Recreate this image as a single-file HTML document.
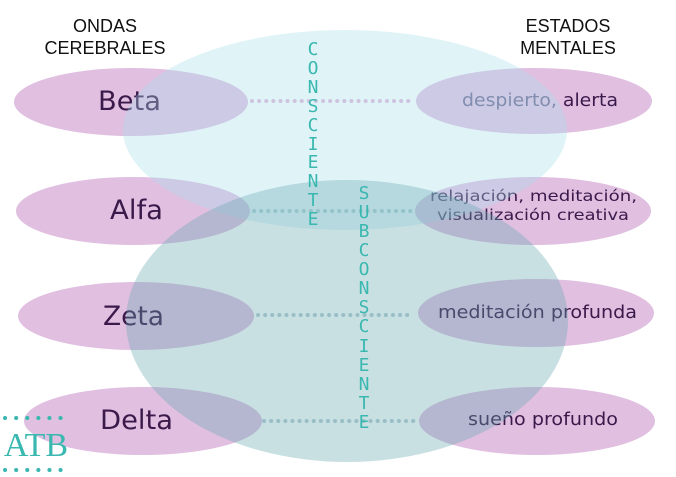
<!DOCTYPE html>
<html><head><meta charset="utf-8"><style>
html,body{margin:0;padding:0;background:#fff;}
svg{display:block;}
</style></head><body>
<svg width="676" height="477" viewBox="0 0 676 477" xmlns="http://www.w3.org/2000/svg">
<g fill="#e0bfe0">
<ellipse cx="131" cy="102" rx="117" ry="34"/>
<ellipse cx="133" cy="211" rx="117" ry="34"/>
<ellipse cx="136" cy="316" rx="118" ry="34"/>
<ellipse cx="143" cy="421" rx="119" ry="34"/>
<ellipse cx="534" cy="101" rx="118" ry="33"/>
<ellipse cx="533" cy="211" rx="118" ry="34"/>
<ellipse cx="536" cy="313" rx="118" ry="34"/>
<ellipse cx="537" cy="421" rx="118" ry="34"/>
</g>
<g font-family="DejaVu Sans, sans-serif" fill="#3a1a4a">
<text x="98" y="110" font-size="27" textLength="63" lengthAdjust="spacingAndGlyphs">Beta</text>
<text x="110" y="219" font-size="27" textLength="53" lengthAdjust="spacingAndGlyphs">Alfa</text>
<text x="103" y="325" font-size="27" textLength="61" lengthAdjust="spacingAndGlyphs">Zeta</text>
<text x="100" y="429" font-size="27" textLength="73" lengthAdjust="spacingAndGlyphs">Delta</text>
<text x="462" y="106" font-size="18" textLength="156" lengthAdjust="spacingAndGlyphs"><tspan fill="#6f6290">despierto, </tspan>alerta</text>
<text x="430" y="201" font-size="15.5" textLength="207" lengthAdjust="spacingAndGlyphs">relajación, meditación,</text>
<text x="437" y="220" font-size="15.5" textLength="192" lengthAdjust="spacingAndGlyphs">visualización creativa</text>
<text x="438" y="318" font-size="17.5" textLength="199" lengthAdjust="spacingAndGlyphs">meditación profunda</text>
<text x="468" y="425" font-size="17.5" textLength="150" lengthAdjust="spacingAndGlyphs">sueño profundo</text>
</g>
<g stroke-linecap="round" stroke-width="4" stroke-dasharray="0.1 7">
<line x1="252" y1="101" x2="414" y2="101" stroke="#e2b6dc"/>
<line x1="254" y1="211" x2="414" y2="211" stroke="#b6ccd3"/>
<line x1="258" y1="315" x2="414" y2="315" stroke="#b6ccd3"/>
<line x1="264" y1="421" x2="418" y2="421" stroke="#b6ccd3"/>
</g>
<ellipse cx="345" cy="130" rx="222" ry="100" fill="#a6e0eb" opacity="0.35"/>
<ellipse cx="347" cy="321" rx="221" ry="141" fill="#65a6af" opacity="0.35"/>
<g font-family="DejaVu Sans Mono, monospace" font-size="18" fill="#3ab8b0" text-anchor="middle">
<text x="313" y="55">C</text><text x="313" y="74">O</text><text x="313" y="93">N</text><text x="313" y="112">S</text><text x="313" y="131">C</text><text x="313" y="150">I</text><text x="313" y="168">E</text><text x="313" y="187">N</text><text x="313" y="206">T</text><text x="313" y="225">E</text>
<text x="364" y="199">S</text><text x="364" y="218">U</text><text x="364" y="237">B</text><text x="364" y="256">C</text><text x="364" y="275">O</text><text x="364" y="294">N</text><text x="364" y="313">S</text><text x="364" y="332">C</text><text x="364" y="352">I</text><text x="364" y="371">E</text><text x="364" y="390">N</text><text x="364" y="409">T</text><text x="364" y="428">E</text>
</g>
<g font-family="Liberation Sans, sans-serif" font-size="18" fill="#111" text-anchor="middle">
<text x="105" y="32">ONDAS</text>
<text x="105" y="54">CEREBRALES</text>
<text x="568" y="32">ESTADOS</text>
<text x="568" y="54">MENTALES</text>
</g>
<g fill="#3ab8b0">
<g stroke="#3ab8b0" stroke-width="4" stroke-linecap="round" stroke-dasharray="0.1 11">
<line x1="5" y1="418" x2="68" y2="418"/>
<line x1="5" y1="470" x2="68" y2="470"/>
</g>
<text x="36" y="456" font-family="Liberation Serif, serif" font-size="34" text-anchor="middle">ATB</text>
</g>
</svg>
</body></html>
